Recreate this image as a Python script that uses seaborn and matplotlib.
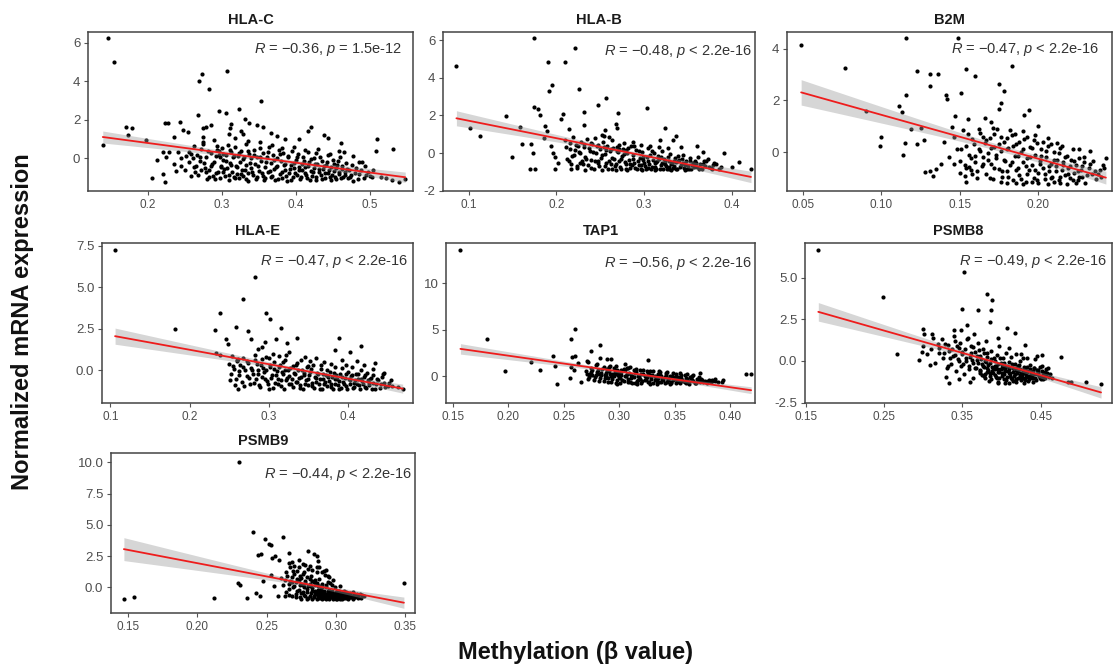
import numpy as np
import pandas as pd
import matplotlib
matplotlib.use("Agg")
import matplotlib.pyplot as plt
import seaborn as sns

try:
    from scipy.stats import t as t_dist
except ImportError:
    t_dist = None

sns.set_theme(style="white")
plt.rcParams["font.family"] = ["Liberation Sans", "DejaVu Sans"]
plt.rcParams["mathtext.fontset"] = "custom"
plt.rcParams["mathtext.it"] = "Liberation Sans:italic"
plt.rcParams["mathtext.rm"] = "Liberation Sans"

# ---- data: (methylation beta, normalized expression) per gene ----
hla_c = np.array([
    (0.139, 0.70), (0.146, 6.26), (0.154, 5.00), (0.170, 1.63), (0.179, 1.60), (0.173, 1.20), (0.198, 0.94),
    (0.205, -1.00), (0.212, -0.09), (0.220, -0.80), (0.223, -1.20), (0.221, 0.31), (0.225, 0.09), (0.223, 1.85),
    (0.227, 1.82), (0.229, 0.31), (0.235, 1.13), (0.235, -0.29), (0.238, -0.63), (0.241, 0.31), (0.243, 1.90),
    (0.245, -0.38), (0.247, 1.46), (0.252, 0.14), (0.254, 1.37), (0.256, -0.20), (0.261, 0.00), (0.263, 0.65),
    (0.265, -0.38), (0.268, 2.25), (0.269, 4.00), (0.270, -0.12), (0.272, -0.58), (0.273, 4.39), (0.274, 0.74),
    (0.274, 1.13), (0.274, 1.60), (0.278, 1.65), (0.278, -0.72), (0.280, -1.06), (0.282, 3.60), (0.285, 1.72),
    (0.285, -0.38), (0.291, -1.06), (0.292, 0.14), (0.294, 0.65), (0.296, 2.45), (0.296, 0.39), (0.299, -0.38),
    (0.301, -0.72), (0.306, 2.35), (0.307, 4.56), (0.309, 1.29), (0.311, 1.60), (0.313, 1.77), (0.323, 2.57),
    (0.326, 1.41), (0.328, 1.25), (0.331, 2.07), (0.337, 1.85), (0.347, 1.72), (0.353, 3.00), (0.356, 1.65),
    (0.366, 1.34), (0.374, 1.17), (0.385, 1.00), (0.405, 1.03), (0.417, 1.42), (0.421, 1.63), (0.438, 1.22),
    (0.444, 1.08), (0.461, 0.79), (0.465, 0.33), (0.478, 0.14), (0.485, -0.17), (0.489, -0.20), (0.493, -0.38),
    (0.508, 0.36), (0.510, 1.03), (0.532, 0.51),
    (0.245, 0.00), (0.250, -0.60), (0.255, 0.35), (0.258, -0.90), (0.262, -0.45), (0.266, 0.20), (0.268, -0.85),
    (0.272, 0.50), (0.276, -0.25), (0.279, 0.05), (0.283, -0.60), (0.286, 0.30), (0.288, -0.90), (0.290, -0.20),
    (0.293, 0.45), (0.295, -0.70), (0.297, -1.00), (0.298, 0.10),
    (0.300, 0.55), (0.302, -0.10), (0.304, -0.90), (0.305, 0.20), (0.307, -0.50), (0.308, 0.70), (0.310, -1.10),
    (0.311, -0.25), (0.312, 0.35), (0.314, -0.70), (0.315, 0.05), (0.316, -0.95), (0.318, 0.60), (0.319, -0.40),
    (0.320, -0.80), (0.322, 0.15), (0.323, -1.00), (0.324, -0.20), (0.326, 0.40), (0.327, -0.60), (0.329, -0.90),
    (0.330, 0.10), (0.332, -0.35), (0.333, 0.75), (0.335, -0.75), (0.336, -1.15), (0.337, 0.25), (0.339, -0.50),
    (0.340, 0.00), (0.342, -0.85), (0.343, 0.45), (0.345, -0.30), (0.346, -1.05), (0.348, 0.10), (0.350, -0.65),
    (0.351, 0.55), (0.353, -0.15), (0.355, -0.90), (0.356, 0.30), (0.358, -0.45), (0.359, -1.00), (0.361, 0.05),
    (0.362, -0.70), (0.364, 0.60), (0.366, -0.25), (0.367, -0.95), (0.369, 0.20), (0.370, -0.55), (0.372, -1.10),
    (0.374, 0.00), (0.375, -0.40), (0.377, 0.45), (0.378, -0.80), (0.380, -0.15), (0.382, -1.00), (0.383, 0.30),
    (0.385, -0.60), (0.386, -0.30), (0.388, -1.15), (0.390, 0.15), (0.391, -0.75), (0.393, -0.35), (0.395, 0.40),
    (0.396, -0.95), (0.398, -0.50), (0.400, -0.10), (0.401, -0.85), (0.403, 0.25), (0.405, -0.60), (0.406, -1.05),
    (0.408, -0.30), (0.410, 0.05), (0.412, -0.75), (0.413, -0.45), (0.415, -1.00), (0.417, 0.35), (0.418, -0.20),
    (0.420, -0.65), (0.422, -0.90), (0.424, 0.00), (0.425, -0.50), (0.427, -1.10), (0.429, -0.30), (0.430, 0.50),
    (0.432, -0.70), (0.434, -0.85), (0.436, -0.15), (0.437, -0.55), (0.439, -1.00), (0.441, -0.35), (0.443, 0.20),
    (0.444, -0.75), (0.446, -0.95), (0.448, -0.45), (0.450, -0.10), (0.452, -0.65), (0.454, -1.05), (0.456, -0.35),
    (0.458, -0.80), (0.460, 0.10), (0.462, -0.55), (0.464, -0.95), (0.466, -0.70), (0.468, -0.25), (0.470, -1.00),
    (0.472, -0.60), (0.475, -0.85), (0.478, -1.15), (0.482, -0.50), (0.486, -0.80), (0.492, -1.00), (0.497, -0.70),
    (0.500, -0.90), (0.505, -0.60), (0.515, -0.95), (0.522, -1.00), (0.530, -1.10), (0.540, -1.20), (0.548, -1.05),
    (0.301, 0.25), (0.303, -0.55), (0.306, -0.15), (0.309, -0.85), (0.311, 0.45), (0.313, -0.35), (0.316, 0.15),
    (0.318, -1.00), (0.321, -0.45), (0.323, 0.30), (0.326, -0.80), (0.328, -0.05), (0.331, -0.60), (0.333, -1.05),
    (0.336, 0.40), (0.338, -0.25), (0.341, -0.70), (0.344, 0.20), (0.347, -0.95), (0.349, -0.40), (0.352, 0.05),
    (0.354, -0.75), (0.357, -1.10), (0.360, -0.20), (0.363, 0.35), (0.365, -0.65), (0.368, -0.90), (0.371, -0.10),
    (0.373, -0.45), (0.376, -1.05), (0.379, 0.25), (0.381, -0.70), (0.384, -0.35), (0.387, -0.90), (0.389, 0.05),
    (0.392, -0.55), (0.394, -1.10), (0.397, -0.25), (0.399, -0.75), (0.402, 0.10), (0.404, -0.45), (0.407, -0.95),
    (0.409, -0.60), (0.411, -0.15), (0.414, -0.85), (0.416, -0.40), (0.419, -1.10), (0.421, -0.05), (0.423, -0.70),
    (0.426, -0.30), (0.428, -0.95), (0.431, -0.55), (0.433, 0.05), (0.435, -1.05), (0.438, -0.40), (0.440, -0.75),
    (0.442, -0.20), (0.445, -0.60), (0.447, -1.10), (0.449, -0.85), (0.451, -0.30), (0.453, -0.95), (0.455, -0.50),
    (0.457, -0.15), (0.459, -0.70), (0.461, -1.00), (0.463, -0.40), (0.467, -0.85), (0.469, -0.55), (0.473, -0.95),
    (0.476, -0.35), (0.480, -0.75), (0.484, -1.05), (0.488, -0.60), (0.495, -0.85), (0.503, -0.95), (0.258, 0.25),
    (0.264, -0.70), (0.271, 0.10), (0.277, -0.50), (0.281, 0.40), (0.287, -0.30), (0.292, -0.75), (0.296, 0.20),
    (0.299, -0.45), (0.282, -0.95), (0.275, 0.85), (0.289, 0.95), (0.318, 1.05), (0.335, 0.90), (0.352, 0.85),
    (0.368, 0.70), (0.381, 0.55), (0.398, 0.60), (0.412, 0.45), (0.427, 0.30), (0.446, 0.25), (0.458, 0.40),
])

hla_b = np.array([
    (0.086, 4.65), (0.102, 1.35), (0.113, 0.88), (0.142, 1.95), (0.149, -0.21), (0.158, 1.38), (0.161, 0.50),
    (0.171, 0.50), (0.173, 0.00), (0.170, -0.87), (0.176, -0.87), (0.175, 6.10), (0.174, 2.44), (0.179, 2.35),
    (0.181, 2.05), (0.190, 4.87), (0.210, 4.87), (0.221, 5.58), (0.195, 3.60), (0.192, 3.30), (0.226, 3.42),
    (0.208, 2.09), (0.205, 1.79), (0.187, 1.42), (0.189, 1.17), (0.186, 0.81), (0.194, 0.35), (0.196, 0.02),
    (0.198, -0.21), (0.202, -0.53), (0.199, -0.87), (0.232, 2.21), (0.232, 1.50), (0.214, 1.29), (0.248, 2.53),
    (0.257, 2.92), (0.270, 2.14), (0.268, 1.56), (0.269, 1.35), (0.303, 2.41), (0.324, 1.33), (0.336, 0.88),
    (0.333, 0.71), (0.318, 0.71), (0.342, 0.32), (0.360, 0.35), (0.367, 0.05), (0.391, 0.00), (0.400, -0.74),
    (0.408, -0.48), (0.422, -0.83), (0.379, -0.65), (0.385, -0.83), (0.255, 1.20), (0.252, 0.94), (0.260, 0.85),
    (0.272, 0.23),
    (0.210, 0.70), (0.212, -0.30), (0.215, 0.20), (0.217, -0.60), (0.219, 0.85), (0.220, -0.10), (0.222, 0.45),
    (0.224, -0.80), (0.226, 0.05), (0.228, 0.60), (0.229, -0.45), (0.231, 0.30), (0.233, -0.20), (0.235, 0.75),
    (0.236, -0.65), (0.238, 0.10), (0.240, -0.35), (0.241, 0.50), (0.243, -0.85), (0.245, 0.00), (0.246, 0.35),
    (0.248, -0.55), (0.250, 0.20), (0.251, -0.25), (0.253, 0.60), (0.255, -0.70), (0.256, -0.05), (0.258, 0.40),
    (0.260, -0.45), (0.261, 0.10), (0.263, -0.85), (0.265, 0.25), (0.266, -0.30), (0.268, -0.60), (0.270, 0.05),
    (0.271, 0.45), (0.273, -0.75), (0.275, -0.15), (0.276, 0.20), (0.278, -0.50), (0.280, -0.85), (0.281, 0.00),
    (0.283, -0.35), (0.285, 0.35), (0.286, -0.65), (0.288, -0.10), (0.290, -0.80), (0.291, 0.15), (0.293, -0.45),
    (0.295, -0.25), (0.296, -0.85), (0.298, 0.05), (0.300, -0.55), (0.301, -0.70), (0.303, -0.20), (0.305, 0.25),
    (0.306, -0.60), (0.308, -0.85), (0.310, -0.35), (0.311, 0.00), (0.313, -0.75), (0.315, -0.45), (0.316, -0.15),
    (0.318, -0.85), (0.320, -0.55), (0.321, 0.10), (0.323, -0.30), (0.325, -0.70), (0.326, -0.85), (0.328, -0.40),
    (0.330, -0.05), (0.331, -0.60), (0.333, -0.80), (0.335, -0.25), (0.337, -0.50), (0.338, -0.85), (0.340, -0.35),
    (0.342, -0.65), (0.344, -0.10), (0.346, -0.80), (0.348, -0.45), (0.350, -0.70), (0.352, -0.25), (0.354, -0.85),
    (0.356, -0.55), (0.358, -0.40), (0.360, -0.75), (0.362, -0.20), (0.364, -0.60), (0.366, -0.85), (0.368, -0.45),
    (0.370, -0.70), (0.373, -0.30), (0.376, -0.80), (0.380, -0.55),
    (0.227, -0.55), (0.239, 0.55), (0.247, -0.40), (0.257, 0.15), (0.262, -0.60), (0.269, 0.30), (0.274, -0.30),
    (0.279, 0.15), (0.284, -0.60), (0.289, 0.40), (0.294, -0.65), (0.299, -0.35), (0.304, -0.80), (0.309, 0.10),
    (0.314, -0.50), (0.319, -0.20), (0.324, -0.60), (0.329, -0.75), (0.334, -0.40), (0.339, -0.15), (0.345, -0.55),
    (0.349, -0.85), (0.355, -0.65),
    (0.211, 0.30), (0.214, -0.45), (0.216, 0.55), (0.218, -0.15), (0.221, 0.15), (0.223, -0.70), (0.225, 0.35),
    (0.227, 0.00), (0.230, -0.60), (0.232, 0.50), (0.234, -0.30), (0.237, 0.25), (0.239, -0.80), (0.242, 0.05),
    (0.244, -0.40), (0.247, 0.45), (0.249, -0.70), (0.252, -0.10), (0.254, 0.30), (0.257, -0.55), (0.259, -0.85),
    (0.262, 0.20), (0.264, -0.25), (0.267, -0.70), (0.269, 0.10), (0.272, -0.45), (0.274, -0.85), (0.277, -0.05),
    (0.279, -0.60), (0.282, 0.25), (0.284, -0.80), (0.287, -0.30), (0.289, -0.55), (0.292, -0.85), (0.294, 0.10),
    (0.297, -0.65), (0.299, -0.20), (0.302, -0.85), (0.304, -0.45), (0.307, -0.10), (0.309, -0.75), (0.312, -0.55),
    (0.314, -0.85), (0.317, -0.30), (0.319, -0.65), (0.322, -0.85), (0.324, -0.45), (0.327, -0.20), (0.329, -0.85),
    (0.332, -0.55), (0.334, -0.70), (0.337, -0.85), (0.339, -0.45), (0.341, -0.75), (0.343, -0.30), (0.347, -0.65),
    (0.351, -0.85), (0.353, -0.45), (0.357, -0.75), (0.359, -0.55), (0.363, -0.85), (0.367, -0.60), (0.371, -0.45),
    (0.374, -0.75), (0.378, -0.85), (0.382, -0.60), (0.388, -0.75), (0.244, 0.80), (0.254, 0.90), (0.263, 0.70),
    (0.277, 0.55), (0.287, 0.60), (0.297, 0.45), (0.307, 0.40), (0.317, 0.30), (0.327, 0.25), (0.217, -0.85),
    (0.233, -0.90), (0.252, -0.90), (0.268, -0.90), (0.281, -0.90), (0.298, -0.90), (0.313, -0.92), (0.331, -0.90),
    (0.347, -0.92),
])

b2m = np.array([
    (0.049, 4.13), (0.077, 3.26), (0.090, 1.57), (0.099, 0.23), (0.100, 0.58), (0.116, 4.41), (0.116, 2.19),
    (0.111, 1.77), (0.113, 1.54), (0.114, -0.13), (0.115, 0.36), (0.123, 3.12), (0.131, 3.03), (0.136, 3.03),
    (0.131, 2.57), (0.141, 2.19), (0.142, 2.05), (0.149, 4.41), (0.154, 3.23), (0.160, 2.93), (0.151, 2.28),
    (0.175, 2.65), (0.178, 2.36), (0.176, 1.91), (0.175, 1.68), (0.183, 3.35), (0.194, 1.64), (0.200, 1.02),
    (0.191, 1.42), (0.119, 0.90), (0.125, 0.93), (0.123, 0.30), (0.127, 0.48), (0.128, -0.77), (0.131, -0.75),
    (0.133, -0.94), (0.135, -0.65), (0.138, -0.45), (0.147, 1.38), (0.145, 0.97), (0.146, -0.45), (0.150, -0.80),
    (0.153, -0.93), (0.154, -1.16), (0.155, 1.29), (0.156, -0.58),
    (0.140, 0.40), (0.143, -0.20), (0.146, 0.60), (0.148, 0.10), (0.150, -0.35), (0.152, 0.85), (0.154, 0.25),
    (0.156, -0.10), (0.157, -0.70), (0.158, 0.50), (0.160, -0.40), (0.161, -1.00), (0.162, 0.10), (0.163, 0.75),
    (0.164, -0.55), (0.165, -0.20), (0.166, 0.35), (0.167, -0.85), (0.168, -0.05), (0.169, 0.55), (0.170, -0.45),
    (0.171, -1.05), (0.172, 0.20), (0.173, -0.25), (0.174, 0.90), (0.175, -0.65), (0.176, 0.05), (0.177, -0.95),
    (0.178, 0.40), (0.179, -0.35), (0.180, -0.75), (0.181, 0.15), (0.182, -0.50), (0.183, 0.65), (0.184, -1.10),
    (0.185, -0.15), (0.186, 0.30), (0.187, -0.60), (0.188, -0.90), (0.189, 0.00), (0.190, -0.40), (0.191, 0.50),
    (0.192, -1.15), (0.193, -0.25), (0.194, -0.70), (0.195, 0.20), (0.196, -0.50), (0.197, -1.00), (0.198, -0.10),
    (0.199, 0.35), (0.200, -0.80), (0.201, -0.35), (0.202, 0.10), (0.203, -0.60), (0.204, -1.05), (0.205, -0.20),
    (0.206, 0.25), (0.207, -0.75), (0.208, -0.45), (0.209, -0.95), (0.210, 0.00), (0.211, -0.55), (0.212, -0.30),
    (0.213, -1.10), (0.214, 0.15), (0.215, -0.70), (0.216, -0.40), (0.217, -0.90), (0.218, -0.15), (0.219, -0.60),
    (0.220, -1.00), (0.221, -0.30), (0.222, 0.10), (0.223, -0.80), (0.224, -0.50), (0.225, -1.10), (0.226, -0.25),
    (0.227, -0.70), (0.228, -0.95), (0.229, -0.40), (0.230, -1.20), (0.232, -0.60), (0.234, -0.85), (0.235, -0.35),
    (0.237, -1.05), (0.239, -0.70), (0.241, -0.50), (0.243, -0.25), (0.238, -0.85),
    (0.166, 1.30), (0.170, 1.15), (0.172, 0.70), (0.176, 0.60), (0.180, 0.55), (0.185, 0.70), (0.188, 0.40),
    (0.193, 0.60), (0.197, 0.45), (0.203, 0.40), (0.208, 0.30), (0.215, 0.25), (0.180, -1.20), (0.190, -1.25),
    (0.200, -1.20), (0.210, -1.15), (0.218, -1.25), (0.160, -0.15), (0.165, 0.60), (0.168, -0.30),
    (0.151, 0.10), (0.153, -0.50), (0.155, 0.70), (0.157, -0.25), (0.159, 0.30), (0.161, -0.75), (0.163, 0.05),
    (0.165, -0.45), (0.167, 0.45), (0.169, -1.00), (0.170, 0.15), (0.172, -0.60), (0.173, -0.10), (0.175, 0.30),
    (0.177, -0.75), (0.178, -0.30), (0.180, 0.10), (0.181, -0.95), (0.183, -0.40), (0.184, 0.25), (0.186, -0.70),
    (0.187, -0.15), (0.189, -1.05), (0.190, 0.10), (0.192, -0.55), (0.193, -0.85), (0.195, -0.20), (0.196, 0.15),
    (0.198, -0.70), (0.199, -1.10), (0.201, -0.45), (0.202, -0.15), (0.204, -0.85), (0.205, 0.05), (0.207, -0.55),
    (0.208, -1.00), (0.210, -0.30), (0.211, -0.75), (0.213, -0.05), (0.214, -0.95), (0.216, -0.50), (0.217, -0.20),
    (0.219, -0.85), (0.220, -0.55), (0.222, -1.10), (0.223, -0.35), (0.225, -0.75), (0.226, -0.95), (0.228, -0.55),
    (0.229, -0.20), (0.231, -0.90), (0.233, -0.45), (0.236, -0.75), (0.240, -0.95), (0.242, -0.60), (0.176, -1.15),
    (0.186, -1.20), (0.196, -1.15), (0.206, -1.25), (0.214, -1.20), (0.224, -1.20), (0.171, 0.95), (0.182, 0.85),
    (0.190, 0.80), (0.198, 0.65), (0.206, 0.55), (0.212, 0.35), (0.226, 0.10), (0.233, 0.05), (0.162, 0.90),
    (0.158, -0.85), (0.154, -0.60),
])

hla_e = np.array([
    (0.106, 7.24), (0.181, 2.47), (0.232, 2.41), (0.239, 3.48), (0.234, 1.05), (0.238, 0.95), (0.246, 1.91),
    (0.248, 1.61), (0.258, 2.62), (0.261, -1.15), (0.268, 4.29), (0.282, 5.63), (0.274, 2.37), (0.278, 1.91),
    (0.297, 3.48), (0.302, 3.08), (0.316, 2.58), (0.309, 1.91), (0.323, 1.65), (0.336, 1.97), (0.325, 1.11),
    (0.389, 1.95), (0.384, 1.21), (0.416, 1.45), (0.403, 1.11), (0.434, 0.44), (0.446, -0.14), (0.463, -1.00),
    (0.469, -1.15), (0.291, 1.41), (0.295, 1.71), (0.260, 0.60),
    (0.250, 0.40), (0.252, -0.20), (0.254, 0.85), (0.256, 0.10), (0.258, -0.50), (0.260, 0.55), (0.262, -0.05),
    (0.264, 0.30), (0.266, -0.70), (0.268, 0.75), (0.270, 0.00), (0.272, -0.35), (0.274, 0.45), (0.276, -0.80),
    (0.278, 0.15), (0.280, -0.25), (0.282, 0.65), (0.284, -0.55), (0.286, 0.05), (0.288, -0.90), (0.290, 0.35),
    (0.292, -0.40), (0.294, -0.10), (0.296, 0.80), (0.298, -0.65), (0.300, -1.15), (0.302, 0.20), (0.304, -0.30),
    (0.306, 0.50), (0.308, -0.75), (0.310, -0.05), (0.312, -0.50), (0.314, 0.30), (0.316, -0.95), (0.318, -0.20),
    (0.320, 0.60), (0.322, -0.60), (0.324, 0.05), (0.326, -0.35), (0.328, -0.85), (0.330, 0.25), (0.332, -0.15),
    (0.334, -0.70), (0.336, 0.45), (0.338, -0.45), (0.340, -1.05), (0.342, 0.00), (0.344, -0.30), (0.346, -0.80),
    (0.348, 0.20), (0.350, -0.55), (0.352, -0.10), (0.354, -0.95), (0.356, 0.35), (0.358, -0.40), (0.360, -0.70),
    (0.362, -0.20), (0.364, -1.10), (0.366, 0.10), (0.368, -0.55), (0.370, -0.85), (0.372, -0.30), (0.374, 0.05),
    (0.376, -0.65), (0.378, -1.00), (0.380, -0.40), (0.382, -0.15), (0.384, -0.80), (0.386, -0.50), (0.388, -1.10),
    (0.390, -0.25), (0.392, 0.15), (0.394, -0.70), (0.396, -0.45), (0.398, -0.95), (0.400, -0.10), (0.402, -0.60),
    (0.404, -0.35), (0.406, -1.05), (0.408, -0.75), (0.410, -0.20), (0.412, -0.50), (0.414, -0.90), (0.416, 0.05),
    (0.418, -0.65), (0.420, -0.40), (0.422, -1.00), (0.424, -0.15), (0.426, -0.75), (0.428, -0.55), (0.430, -1.10),
    (0.432, -0.30), (0.435, -0.85), (0.438, -0.60), (0.440, -1.05), (0.443, -0.40), (0.446, -0.75), (0.450, -0.95),
    (0.454, -0.60),
    (0.283, 0.90), (0.287, 1.30), (0.291, 0.70), (0.305, 1.00), (0.313, 0.85), (0.322, 0.95), (0.341, 0.60),
    (0.346, 0.80), (0.352, 0.55), (0.360, 0.75), (0.370, 0.50), (0.378, 0.40), (0.392, 0.65), (0.397, 0.30),
    (0.405, 0.20), (0.411, 0.55), (0.420, 0.30), (0.432, 0.10),
    (0.251, -0.60), (0.255, 0.25), (0.257, -0.90), (0.261, 0.70), (0.263, -0.30), (0.267, 0.20), (0.269, -0.95),
    (0.273, 0.55), (0.275, -0.45), (0.279, 0.05), (0.281, -0.75), (0.285, 0.40), (0.287, -0.20), (0.289, -1.00),
    (0.293, 0.15), (0.295, -0.55), (0.297, 0.00), (0.299, -0.85), (0.301, 0.35), (0.303, -0.45), (0.305, -1.05),
    (0.307, 0.10), (0.309, -0.30), (0.311, -0.80), (0.313, 0.20), (0.315, -0.60), (0.317, -0.10), (0.319, -1.10),
    (0.321, 0.05), (0.323, -0.45), (0.325, -0.80), (0.327, 0.15), (0.329, -0.55), (0.331, -1.00), (0.333, -0.25),
    (0.335, -0.70), (0.337, 0.05), (0.339, -0.90), (0.341, -0.40), (0.343, -1.10), (0.345, -0.15), (0.347, -0.60),
    (0.349, -0.90), (0.351, -0.30), (0.353, 0.10), (0.355, -0.75), (0.357, -1.05), (0.359, -0.45), (0.361, -0.15),
    (0.363, -0.85), (0.365, -0.55), (0.367, -1.15), (0.369, -0.25), (0.371, -0.70), (0.373, -0.95), (0.375, -0.40),
    (0.377, -0.10), (0.379, -0.80), (0.381, -1.15), (0.383, -0.55), (0.385, -0.30), (0.387, -0.90), (0.389, -0.65),
    (0.391, -1.05), (0.393, -0.40), (0.395, -0.80), (0.397, -0.20), (0.399, -1.10), (0.401, -0.55), (0.403, -0.85),
    (0.405, -0.30), (0.407, -1.00), (0.409, -0.60), (0.411, -0.85), (0.413, -0.25), (0.415, -1.15), (0.417, -0.50),
    (0.419, -0.80), (0.421, -0.30), (0.423, -1.05), (0.425, -0.60), (0.427, -0.90), (0.429, -0.45), (0.431, -0.75),
    (0.434, -1.10), (0.437, -0.50), (0.441, -0.85), (0.444, -0.20), (0.447, -1.00), (0.452, -0.75), (0.456, -0.95),
    (0.300, 0.75), (0.318, 0.50), (0.334, 0.35), (0.350, 0.25), (0.366, 0.30), (0.384, 0.20),
])

tap1 = np.array([
    (0.157, 13.50), (0.181, 4.01), (0.197, 0.50), (0.221, 1.50), (0.229, 0.61), (0.240, 2.15), (0.242, 1.04),
    (0.244, -0.82), (0.257, 3.94), (0.260, 5.09), (0.258, 2.04), (0.260, 2.15), (0.257, 0.97), (0.256, -0.18),
    (0.259, 0.61), (0.263, 1.40), (0.266, -0.65), (0.275, 2.65), (0.283, 3.37), (0.283, 1.94), (0.289, 1.86),
    (0.293, 1.79), (0.292, 1.11), (0.271, 1.58), (0.272, 1.51), (0.326, 1.68), (0.305, 1.29), (0.307, 0.82),
    (0.414, 0.18), (0.419, 0.18), (0.384, -0.47), (0.386, -0.29), (0.373, 0.32), (0.280, 1.33),
    (0.270, 0.50), (0.272, -0.30), (0.274, 0.20), (0.276, 0.70), (0.278, -0.10), (0.280, 0.40), (0.282, -0.50),
    (0.284, 0.10), (0.285, 0.80), (0.287, -0.20), (0.288, 0.30), (0.290, -0.60), (0.291, 0.55), (0.293, 0.00),
    (0.294, -0.35), (0.296, 0.25), (0.297, -0.70), (0.299, 0.45), (0.300, -0.15), (0.302, 0.15), (0.303, -0.45),
    (0.305, 0.60), (0.306, -0.05), (0.308, -0.60), (0.309, 0.30), (0.311, -0.25), (0.312, 0.05), (0.314, -0.70),
    (0.315, 0.40), (0.317, -0.40), (0.318, -0.10), (0.320, 0.20), (0.321, -0.55), (0.323, 0.00), (0.324, -0.30),
    (0.326, 0.35), (0.327, -0.65), (0.329, -0.15), (0.330, 0.10), (0.332, -0.45), (0.333, -0.20), (0.335, 0.25),
    (0.336, -0.60), (0.338, -0.05), (0.339, -0.35), (0.341, -0.70), (0.342, 0.10), (0.344, -0.45), (0.345, -0.20),
    (0.347, -0.60), (0.348, 0.05), (0.350, -0.35), (0.351, -0.75), (0.353, -0.15), (0.354, -0.50), (0.356, 0.10),
    (0.357, -0.40), (0.359, -0.65), (0.360, -0.25), (0.362, -0.55), (0.364, -0.10), (0.366, -0.45), (0.368, -0.70),
    (0.370, -0.30), (0.372, -0.55), (0.375, -0.40), (0.378, -0.60), (0.381, -0.45), (0.384, -0.55),
    (0.275, 0.90), (0.279, 1.20), (0.286, 1.00), (0.289, 0.75), (0.295, 0.90), (0.298, 0.65), (0.304, 0.80),
    (0.310, 1.00), (0.313, 0.70), (0.319, 0.60), (0.325, 0.55), (0.331, 0.50), (0.337, 0.45), (0.343, 0.40),
    (0.349, 0.35), (0.355, 0.30), (0.361, 0.20), (0.367, 0.15), (0.301, -0.80), (0.316, -0.85), (0.334, -0.85),
    (0.271, 0.20), (0.273, -0.10), (0.275, 0.40), (0.277, -0.40), (0.279, 0.15), (0.281, 0.60), (0.283, -0.20),
    (0.284, 0.35), (0.286, -0.55), (0.287, 0.10), (0.289, 0.50), (0.290, -0.25), (0.292, 0.20), (0.293, -0.60),
    (0.295, 0.00), (0.296, 0.40), (0.298, -0.40), (0.299, 0.10), (0.301, -0.25), (0.302, 0.45), (0.304, -0.55),
    (0.305, 0.00), (0.307, 0.25), (0.308, -0.30), (0.310, -0.65), (0.311, 0.15), (0.313, -0.15), (0.314, 0.30),
    (0.316, -0.50), (0.317, 0.05), (0.319, -0.30), (0.320, -0.70), (0.322, 0.20), (0.323, -0.45), (0.325, -0.10),
    (0.326, -0.60), (0.328, 0.10), (0.329, -0.35), (0.331, -0.70), (0.332, 0.00), (0.334, -0.50), (0.335, -0.25),
    (0.337, 0.15), (0.338, -0.65), (0.340, -0.40), (0.341, -0.10), (0.343, -0.60), (0.344, -0.30), (0.346, 0.05),
    (0.347, -0.75), (0.349, -0.45), (0.350, -0.15), (0.352, -0.60), (0.353, -0.35), (0.355, -0.70), (0.356, -0.20),
    (0.358, -0.50), (0.360, -0.70), (0.361, -0.35), (0.363, -0.60), (0.365, -0.25), (0.367, -0.55), (0.369, -0.75),
    (0.371, -0.45), (0.373, -0.60), (0.374, -0.35), (0.376, -0.65), (0.377, -0.50), (0.379, -0.70), (0.380, -0.55),
    (0.383, -0.65), (0.386, -0.55), (0.389, -0.60), (0.393, -0.65), (0.394, -0.45), (0.291, 0.95), (0.297, 1.10),
    (0.302, 0.70), (0.308, 0.90), (0.315, 0.75), (0.322, 0.65), (0.328, 0.50), (0.336, 0.55), (0.342, 0.35),
    (0.351, 0.25), (0.359, 0.10), (0.366, 0.05), (0.372, -0.10), (0.298, -0.85), (0.312, -0.80), (0.328, -0.85),
    (0.346, -0.85), (0.363, -0.85), (0.276, 0.10), (0.282, 0.25), (0.288, 0.00), (0.294, 0.20),
])

psmb8 = np.array([
    (0.166, 6.65), (0.249, 3.85), (0.267, 0.44), (0.294, 0.08), (0.298, 0.54), (0.300, 1.94), (0.301, 1.64),
    (0.309, -0.22), (0.311, 1.60), (0.313, 1.40), (0.319, 1.04), (0.329, -0.96), (0.333, -1.32), (0.332, -0.32),
    (0.339, 1.84), (0.348, 1.88), (0.350, 3.15), (0.352, 5.35), (0.356, 2.14), (0.370, 3.05), (0.381, 4.05),
    (0.388, 3.65), (0.386, 3.05), (0.385, 2.34), (0.407, 2.00), (0.417, 1.68), (0.430, 0.94), (0.476, 0.24),
    (0.485, -1.26), (0.489, -1.26), (0.508, -1.26), (0.527, -1.36), (0.451, 0.38),
    (0.300, 0.90), (0.305, 0.40), (0.310, 0.70), (0.315, -0.10), (0.320, 0.50), (0.325, 0.20), (0.328, 1.00),
    (0.330, -0.40), (0.333, 0.60), (0.336, -0.20), (0.338, 0.30), (0.340, 1.20), (0.342, -0.60), (0.344, 0.10),
    (0.346, 0.80), (0.348, -0.30), (0.350, 0.40), (0.352, -0.80), (0.354, 0.00), (0.356, 1.30), (0.358, -0.50),
    (0.360, 0.25), (0.361, 0.90), (0.363, -0.15), (0.364, -1.00), (0.366, 0.55), (0.367, -0.40), (0.369, 0.05),
    (0.370, 1.10), (0.372, -0.70), (0.373, 0.30), (0.375, -0.20), (0.376, 0.75), (0.378, -0.90), (0.379, 0.00),
    (0.381, -0.45), (0.382, 0.45), (0.384, -1.20), (0.385, -0.10), (0.387, 0.60), (0.388, -0.60), (0.390, 0.15),
    (0.391, -0.30), (0.393, -0.95), (0.394, 0.35), (0.396, -0.50), (0.397, 0.90), (0.399, -0.15), (0.400, -0.75),
    (0.402, 0.20), (0.403, -1.10), (0.405, -0.35), (0.406, 0.50), (0.408, -0.60), (0.409, -0.05), (0.411, -0.90),
    (0.412, 0.25), (0.414, -0.45), (0.415, -1.20), (0.417, -0.20), (0.418, 0.40), (0.420, -0.70), (0.421, -1.00),
    (0.423, 0.00), (0.424, -0.50), (0.426, -0.85), (0.427, 0.15), (0.429, -0.35), (0.430, -1.15), (0.432, -0.60),
    (0.433, 0.20), (0.435, -0.90), (0.436, -0.25), (0.438, -0.70), (0.440, -1.05), (0.441, -0.45), (0.443, 0.10),
    (0.445, -0.80), (0.447, -0.55), (0.449, -1.00), (0.451, -0.30), (0.453, -0.75), (0.455, -0.90), (0.457, -0.50),
    (0.365, 1.60), (0.380, 1.20), (0.395, 1.40), (0.410, 0.80), (0.425, 0.40), (0.445, 0.30),
    (0.345, -1.10), (0.360, -1.25), (0.395, -1.30), (0.410, -1.30),
    (0.320, 0.80), (0.324, 1.30), (0.327, 0.45), (0.331, 0.95), (0.334, 0.15), (0.337, 0.70), (0.339, 1.50),
    (0.341, 0.35), (0.343, 0.90), (0.345, 0.00), (0.347, 1.10), (0.349, 0.55), (0.351, -0.20), (0.353, 0.75),
    (0.355, 0.20), (0.357, 1.40), (0.359, -0.30), (0.361, 0.45), (0.362, 0.05), (0.364, 0.85), (0.366, -0.45),
    (0.368, 0.30), (0.370, -0.10), (0.371, 0.65), (0.373, -0.60), (0.374, 0.10), (0.376, -0.30), (0.377, 0.45),
    (0.379, -0.80), (0.380, -0.05), (0.382, 0.25), (0.383, -0.55), (0.385, -0.90), (0.386, 0.10), (0.388, -0.35),
    (0.389, -0.70), (0.391, 0.00), (0.392, -0.50), (0.394, -1.00), (0.395, -0.20), (0.397, -0.65), (0.398, 0.15),
    (0.400, -0.45), (0.401, -0.90), (0.403, -0.15), (0.404, -0.60), (0.406, -1.15), (0.407, -0.30), (0.409, -0.75),
    (0.410, -0.50), (0.412, -1.00), (0.413, -0.20), (0.415, -0.65), (0.416, -0.90), (0.418, -0.40), (0.419, -1.10),
    (0.421, -0.60), (0.422, -0.25), (0.424, -0.85), (0.425, -1.15), (0.427, -0.55), (0.428, -0.75), (0.430, -0.40),
    (0.431, -0.95), (0.433, -0.65), (0.434, -1.20), (0.436, -0.50), (0.437, -0.85), (0.439, -1.05), (0.440, -0.60),
    (0.442, -0.80), (0.444, -1.15), (0.446, -0.65), (0.448, -0.90), (0.450, -1.10), (0.452, -0.60), (0.454, -0.85),
    (0.456, -1.05), (0.458, -0.75), (0.460, -0.95), (0.395, -1.25), (0.405, -1.30), (0.418, -1.25), (0.428, -1.30),
    (0.440, -1.25),
    (0.372, -0.55), (0.375, -0.85), (0.377, -0.35), (0.379, -1.05), (0.381, -0.65), (0.383, -0.25), (0.385, -0.75),
    (0.387, -1.10), (0.389, -0.45), (0.391, -0.85), (0.393, -0.30), (0.395, -0.65), (0.397, -1.00), (0.399, -0.50),
    (0.401, -0.25), (0.403, -0.80), (0.405, -0.55), (0.407, -0.95), (0.409, -0.35), (0.411, -0.70), (0.413, -1.10),
    (0.415, -0.40), (0.417, -0.80), (0.419, -0.55), (0.421, -0.30), (0.423, -0.95), (0.425, -0.70), (0.427, -1.05),
    (0.429, -0.50), (0.431, -0.80), (0.433, -0.35), (0.435, -1.10), (0.437, -0.65), (0.439, -0.85), (0.441, -0.40),
    (0.443, -1.00), (0.445, -0.55), (0.447, -0.75), (0.449, -0.35), (0.451, -0.90), (0.453, -1.10), (0.455, -0.65),
    (0.457, -0.85), (0.459, -0.45), (0.462, -0.80), (0.464, -1.05),
])

psmb9 = np.array([
    (0.147, -0.91), (0.154, -0.77), (0.212, -0.85), (0.230, 10.00), (0.229, 0.35), (0.231, 0.16), (0.236, -0.85),
    (0.240, 4.40), (0.242, -0.45), (0.244, 2.61), (0.246, 2.69), (0.245, -0.72), (0.247, 0.48), (0.249, 3.87),
    (0.252, 3.49), (0.253, 3.36), (0.253, 1.01), (0.254, 2.35), (0.256, 2.48), (0.255, 0.08), (0.259, 2.21),
    (0.262, 4.00), (0.266, 2.75), (0.266, 1.95), (0.280, 2.88), (0.284, 2.69), (0.286, 2.48), (0.287, 2.08),
    (0.293, 1.41), (0.315, -0.53), (0.349, 0.35), (0.258, -0.72), (0.260, 0.75), (0.263, -0.72),
    (0.262, 0.20), (0.264, -0.40), (0.265, 0.90), (0.266, -0.10), (0.267, 0.50), (0.268, -0.70), (0.269, 1.30),
    (0.270, 0.10), (0.271, -0.50), (0.272, 0.70), (0.273, -0.20), (0.273, 1.60), (0.274, -0.80), (0.275, 0.30),
    (0.276, -0.35), (0.276, 1.10), (0.277, 0.00), (0.278, -0.65), (0.278, 0.55), (0.279, -0.15), (0.280, 1.50),
    (0.280, -0.85), (0.281, 0.25), (0.282, -0.45), (0.282, 0.90), (0.283, -0.05), (0.284, -0.70), (0.284, 0.40),
    (0.285, -0.25), (0.286, 1.20), (0.286, -0.90), (0.287, 0.15), (0.288, -0.55), (0.288, 0.65), (0.289, -0.10),
    (0.290, -0.75), (0.290, 0.30), (0.291, -0.40), (0.292, 1.00), (0.292, -0.85), (0.293, 0.05), (0.294, -0.55),
    (0.294, 0.45), (0.295, -0.20), (0.296, -0.80), (0.297, 0.20), (0.297, -0.45), (0.298, -0.70), (0.299, 0.00),
    (0.300, -0.55), (0.300, -0.85), (0.301, -0.25), (0.302, -0.65), (0.303, 0.10), (0.304, -0.45), (0.305, -0.80),
    (0.306, -0.30), (0.308, -0.60), (0.310, -0.75), (0.312, -0.40), (0.314, -0.65), (0.317, -0.55),
    (0.270, 1.70), (0.278, 1.80), (0.283, 1.40), (0.288, 1.60), (0.291, 1.30), (0.295, 0.80), (0.298, 0.60),
    (0.275, -0.90), (0.283, -0.90), (0.290, -0.95), (0.268, 0.40), (0.274, 0.20), (0.285, 0.60), (0.296, 0.35),
    (0.263, 0.60), (0.264, 1.20), (0.266, 0.30), (0.267, 1.60), (0.268, 0.80), (0.269, 0.00), (0.270, 1.10),
    (0.271, 0.45), (0.272, -0.30), (0.272, 1.35), (0.273, 0.60), (0.274, 0.95), (0.275, -0.45), (0.275, 0.75),
    (0.276, 0.20), (0.277, 1.25), (0.277, -0.60), (0.278, 0.35), (0.279, 0.85), (0.279, -0.40), (0.280, 0.10),
    (0.281, 0.70), (0.281, -0.70), (0.282, 0.15), (0.283, -0.30), (0.283, 0.55), (0.284, -0.80), (0.285, 0.20),
    (0.285, -0.50), (0.286, 0.35), (0.287, -0.70), (0.287, -0.20), (0.288, 0.10), (0.289, -0.85), (0.289, -0.40),
    (0.290, 0.00), (0.291, -0.65), (0.291, -0.25), (0.292, -0.85), (0.293, -0.50), (0.293, 0.20), (0.294, -0.75),
    (0.295, -0.40), (0.295, -0.90), (0.296, -0.60), (0.297, -0.25), (0.298, -0.85), (0.298, -0.50), (0.299, -0.70),
    (0.300, -0.35), (0.300, -0.90), (0.301, -0.60), (0.302, -0.80), (0.303, -0.45), (0.303, -0.90), (0.304, -0.70),
    (0.305, -0.55), (0.306, -0.85), (0.307, -0.65), (0.308, -0.45), (0.309, -0.85), (0.311, -0.65), (0.313, -0.80),
    (0.315, -0.70), (0.316, -0.85), (0.319, -0.60), (0.268, 2.00), (0.273, 2.20), (0.276, 1.90), (0.281, 1.70),
    (0.286, 1.60), (0.290, 1.20), (0.294, 0.90), (0.266, -0.60), (0.271, -0.80), (0.279, -0.90),
    (0.296, -0.70), (0.297, -0.35), (0.298, -0.95), (0.299, -0.55), (0.300, -0.75), (0.301, -0.45), (0.301, -0.90),
    (0.302, -0.30), (0.302, -0.60), (0.303, -0.80), (0.304, -0.55), (0.304, -0.95), (0.305, -0.35), (0.305, -0.70),
    (0.306, -0.60), (0.307, -0.85), (0.307, -0.40), (0.308, -0.75), (0.309, -0.55), (0.309, -0.95), (0.310, -0.45),
    (0.311, -0.80), (0.312, -0.65), (0.312, -0.90), (0.313, -0.50), (0.314, -0.80), (0.315, -0.60), (0.316, -0.75),
    (0.318, -0.85), (0.320, -0.65), (0.292, -0.60), (0.293, -0.90), (0.294, -0.30), (0.295, -0.65), (0.289, -0.70),
    (0.290, -0.50), (0.288, -0.85), (0.287, -0.45),
])

genes = ["HLA-C", "HLA-B", "B2M", "HLA-E", "TAP1", "PSMB8", "PSMB9"]
gene_data = [hla_c, hla_b, b2m, hla_e, tap1, psmb8, psmb9]
r_values = ["\u22120.36", "\u22120.48", "\u22120.47", "\u22120.47", "\u22120.56", "\u22120.49", "\u22120.44"]
p_values = ["= 1.5e-12", "< 2.2e-16", "< 2.2e-16", "< 2.2e-16", "< 2.2e-16", "< 2.2e-16", "< 2.2e-16"]

x_ticks = [
    [0.2, 0.3, 0.4, 0.5],
    [0.1, 0.2, 0.3, 0.4],
    [0.05, 0.10, 0.15, 0.20],
    [0.1, 0.2, 0.3, 0.4],
    [0.15, 0.20, 0.25, 0.30, 0.35, 0.40],
    [0.15, 0.25, 0.35, 0.45],
    [0.15, 0.20, 0.25, 0.30, 0.35],
]
x_ticklabels = [
    ["0.2", "0.3", "0.4", "0.5"],
    ["0.1", "0.2", "0.3", "0.4"],
    ["0.05", "0.10", "0.15", "0.20"],
    ["0.1", "0.2", "0.3", "0.4"],
    ["0.15", "0.20", "0.25", "0.30", "0.35", "0.40"],
    ["0.15", "0.25", "0.35", "0.45"],
    ["0.15", "0.20", "0.25", "0.30", "0.35"],
]
y_ticks = [
    [0, 2, 4, 6],
    [-2, 0, 2, 4, 6],
    [0, 2, 4],
    [0.0, 2.5, 5.0, 7.5],
    [0, 5, 10],
    [-2.5, 0.0, 2.5, 5.0],
    [0.0, 2.5, 5.0, 7.5, 10.0],
]
y_ticklabels = [
    ["0", "2", "4", "6"],
    ["-2", "0", "2", "4", "6"],
    ["0", "2", "4"],
    ["0.0", "2.5", "5.0", "7.5"],
    ["0", "5", "10"],
    ["-2.5", "0.0", "2.5", "5.0"],
    ["0.0", "2.5", "5.0", "7.5", "10.0"],
]

# ---- layout (pixels: left, top, right, bottom) ----
W, H = 1114, 670
panel_px = [
    (88, 32, 413, 191),
    (443, 32, 755, 191),
    (787, 32, 1112, 191),
    (102, 243, 413, 403),
    (446, 243, 755, 403),
    (805, 243, 1112, 403),
    (111, 453, 415, 613),
]
x_lims = [(0.119, 0.5585), (0.0707, 0.4266), (0.040, 0.2469), (0.0895, 0.482),
          (0.144, 0.4225), (0.149, 0.541), (0.1377, 0.357)]
y_lims = [(-1.69, 6.56), (-2.02, 6.44), (-1.51, 4.65), (-1.97, 7.68),
          (-2.9, 14.3), (-2.53, 7.1), (-2.05, 10.75)]
label_right_px = [11, 3, 13, 5, 3, 5, 3]
label_down_px = [18, 20, 18, 19, 20, 19, 22]


def lm_confidence_band(x, y, grid, level=0.95):
    """Least-squares fit with the classical t-based confidence band."""
    X = np.column_stack([np.ones_like(x), x])
    coef, *_ = np.linalg.lstsq(X, y, rcond=None)
    n = len(x)
    dof = n - 2
    resid = y - X @ coef
    s2 = resid @ resid / dof
    xbar = x.mean()
    sxx = ((x - xbar) ** 2).sum()
    se = np.sqrt(s2 * (1.0 / n + (grid - xbar) ** 2 / sxx))
    tq = t_dist.ppf(0.5 + level / 2, dof) if t_dist is not None else 1.966
    fit = coef[0] + coef[1] * grid
    return fit - tq * se, fit + tq * se


fig = plt.figure(figsize=(W / 100, H / 100), dpi=100)
fig.patch.set_facecolor("white")

for i, gene in enumerate(genes):
    l, t, r, b = panel_px[i]
    ax = fig.add_axes([l / W, 1 - b / H, (r - l) / W, (b - t) / H])
    df = pd.DataFrame(gene_data[i], columns=["beta", "expression"])
    sns.regplot(
        data=df, x="beta", y="expression", ax=ax, color="black", ci=None,
        scatter_kws=dict(s=9, linewidths=0, alpha=1, zorder=2),
        line_kws=dict(color="#ee1c1c", lw=1.3, zorder=4),
    )
    xs = df["beta"].to_numpy()
    grid = np.linspace(xs.min(), xs.max(), 100)
    lo, hi = lm_confidence_band(xs, df["expression"].to_numpy(), grid)
    ax.fill_between(grid, lo, hi, facecolor="#999999", alpha=0.4, linewidth=0, zorder=3)

    ax.set_xlim(*x_lims[i])
    ax.set_ylim(*y_lims[i])
    ax.set_xticks(x_ticks[i])
    ax.set_xticklabels(x_ticklabels[i])
    ax.set_yticks(y_ticks[i])
    ax.set_yticklabels(y_ticklabels[i])
    ax.set_xlabel("")
    ax.set_ylabel("")
    ax.tick_params(axis="both", length=3, width=0.8, color="#555555", labelsize=8.5,
                   labelcolor="#4d4d4d", pad=2.5, bottom=True, left=True)
    ax.tick_params(axis="y", labelsize=9.5)
    for sp in ax.spines.values():
        sp.set_visible(True)
        sp.set_color("#444444")
        sp.set_linewidth(1.1)
    ax.grid(False)
    ax.set_facecolor("white")
    ax.set_title(gene, fontsize=10.5, fontweight="bold", color="#1a1a1a", pad=6)
    pw, ph = r - l, b - t
    ax.text(1 - label_right_px[i] / pw, 1 - label_down_px[i] / ph,
            rf"$R$ = {r_values[i]}, $p$ {p_values[i]}",
            transform=ax.transAxes, ha="right", va="center", fontsize=10.5, color="#333333")

fig.text(23 / W, 1 - 322 / H, "Normalized mRNA expression", rotation=90,
         ha="center", va="center", fontsize=17, fontweight="bold", color="#111111")
fig.text(576 / W, 1 - 653 / H, "Methylation (\u03b2 value)",
         ha="center", va="center", fontsize=17, fontweight="bold", color="#111111")

fig.savefig("out.png", dpi=100, facecolor="white")
